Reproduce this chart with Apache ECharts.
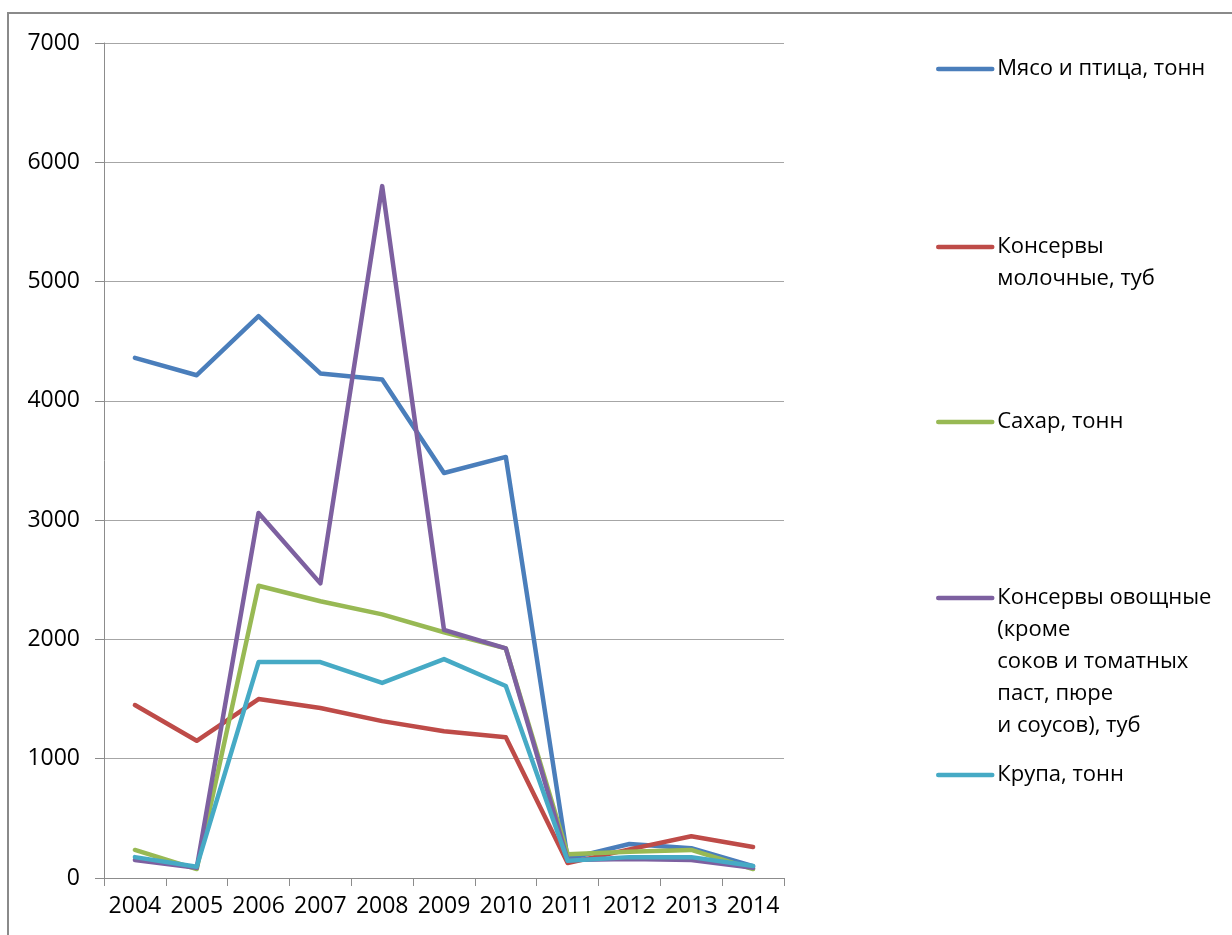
<!DOCTYPE html>
<html>
<head>
<meta charset="utf-8">
<script src="https://cdn.jsdelivr.net/npm/echarts@6/dist/echarts.min.js"></script>
<style>
  html, body { margin: 0; padding: 0; background: #fff; }
  #chart { width: 1232px; height: 935px; }
</style>
</head>
<body>
<div id="chart"></div>
<script>
const years = ["2004", "2005", "2006", "2007", "2008", "2009", "2010", "2011", "2012", "2013", "2014"];

const meat = [4360, 4215, 4710, 4230, 4180, 3395, 3530, 160, 285, 250, 100];
const milkCans = [1450, 1150, 1500, 1425, 1315, 1230, 1180, 125, 240, 350, 260];
const sugar = [235, 75, 2450, 2320, 2210, 2060, 1925, 200, 220, 235, 75];
const vegCans = [150, 85, 3060, 2470, 5800, 2080, 1925, 150, 160, 150, 85];
const groats = [175, 95, 1810, 1810, 1635, 1835, 1610, 145, 175, 175, 100];

const seriesNames = [
  "Мясо и птица, тонн",
  "Консервы молочные, туб",
  "Сахар, тонн",
  "Консервы овощные (кроме соков и томатных паст, пюре и соусов), туб",
  "Крупа, тонн"
];
// legend text broken the same way as in the picture
const legendLines = [
  ["Мясо и птица, тонн"],
  ["Консервы", "молочные, туб"],
  ["Сахар, тонн"],
  ["Консервы овощные", "(кроме", "соков и томатных", "паст, пюре", "и соусов), туб"],
  ["Крупа, тонн"]
];
const colors = ["#4a7ebb", "#be4b48", "#98b954", "#7d60a0", "#46aac5"];
const seriesData = [meat, milkCans, sugar, vegCans, groats];

const font = "Open Sans";
const lineH = 32;
const iconY = [69, 247, 422, 598, 775];

const chart = echarts.init(document.getElementById("chart"));

const legends = seriesNames.map((name, i) => {
  const lines = legendLines[i];
  const n = lines.length;
  // blank lines in front keep the first line level with the icon
  const text = new Array(n - 1).fill("").concat(lines).join("\n");
  return {
    data: [name],
    orient: "vertical",
    left: 936,
    top: iconY[i] - (2 * n - 1) * lineH / 2,
    padding: 0,
    itemWidth: 54,
    itemHeight: 14,
    selectedMode: false,
    itemStyle: { opacity: 0 },
    lineStyle: { width: 4.5, cap: "round" },
    formatter: () => text,
    textStyle: { fontFamily: font, fontSize: 22, color: "#000", lineHeight: lineH }
  };
});

chart.setOption({
  animation: false,
  backgroundColor: "#fff",
  textStyle: { fontFamily: font },
  color: colors,
  graphic: [{
    type: "rect",
    shape: { x: 8, y: 13, width: 1240, height: 940 },
    style: { fill: "none", stroke: "#8a8a8a", lineWidth: 2 },
    silent: true
  }],
  legend: legends,
  grid: { left: 104, right: 448, top: 43, bottom: 57 },
  xAxis: {
    type: "category",
    data: years,
    boundaryGap: true,
    axisLine: { lineStyle: { color: "#8c8c8c", width: 1 } },
    axisTick: { show: true, length: 8, lineStyle: { color: "#8c8c8c" } },
    axisLabel: { fontFamily: font, fontSize: 23, color: "#000", margin: 17, interval: 0 }
  },
  yAxis: {
    type: "value",
    min: 0,
    max: 7000,
    interval: 1000,
    axisLine: { show: true, lineStyle: { color: "#8c8c8c", width: 1 } },
    axisTick: { show: true, length: 9, lineStyle: { color: "#8c8c8c" } },
    splitLine: { lineStyle: { color: "#a6a6a6", width: 1 } },
    axisLabel: { fontFamily: font, fontSize: 23, color: "#000", margin: 24, formatter: v => String(v) }
  },
  series: seriesNames.map((name, i) => ({
    name: name,
    type: "line",
    data: seriesData[i],
    symbol: "none",
    lineStyle: { width: 4.5, color: colors[i], join: "round", cap: "round" },
    itemStyle: { color: colors[i] }
  }))
});
</script>
</body>
</html>
